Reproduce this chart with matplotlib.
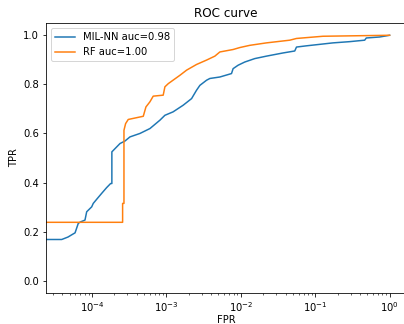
import matplotlib
matplotlib.use("Agg")
import matplotlib.pyplot as plt

# values
nn_fpr = [1e-5, 3.92e-5, 4.76e-5, 5.40e-5, 5.92e-5, 6.55e-5, 7.05e-5, 8.05e-5,
          8.49e-5, 9.91e-5, 1.04e-4, 1.18e-4, 1.35e-4, 1.57e-4, 1.78e-4,
          1.85e-4, 1.85e-4, 2.38e-4, 2.77e-4, 3.24e-4, 4.41e-4, 6.01e-4,
          8.18e-4, 9.55e-4, 1.23e-3, 1.68e-3, 2.18e-3, 2.54e-3, 2.82e-3,
          3.47e-3, 3.84e-3, 5.23e-3, 7.50e-3, 7.88e-3, 9.20e-3, 1.13e-2,
          1.54e-2, 2.21e-2, 3.70e-2, 5.31e-2, 5.60e-2, 7.62e-2, 0.115, 0.173,
          0.290, 0.462, 0.486, 0.734, 1.0]
nn_tpr = [0.168, 0.168, 0.178, 0.188, 0.195, 0.234, 0.240, 0.247,
          0.281, 0.301, 0.315, 0.335, 0.356, 0.379, 0.396,
          0.396, 0.525, 0.559, 0.569, 0.586, 0.600, 0.620,
          0.654, 0.674, 0.688, 0.715, 0.742, 0.776, 0.796,
          0.817, 0.824, 0.830, 0.844, 0.864, 0.878, 0.891,
          0.905, 0.915, 0.928, 0.936, 0.952, 0.957, 0.963, 0.969,
          0.974, 0.980, 0.989, 0.993, 1.0]

rf_fpr = [1e-5, 2.58e-4, 2.58e-4, 2.69e-4, 2.69e-4, 2.83e-4, 3.07e-4, 4.89e-4,
          5.31e-4, 6.01e-4, 6.65e-4, 9.06e-4, 9.55e-4, 1.06e-3, 1.52e-3,
          1.87e-3, 2.54e-3, 3.47e-3, 4.48e-3, 5.23e-3, 7.88e-3, 9.70e-3,
          1.32e-2, 2.21e-2, 4.55e-2, 5.60e-2, 0.127, 1.0]
rf_tpr = [0.238, 0.238, 0.315, 0.315, 0.613, 0.640, 0.657, 0.670,
          0.708, 0.729, 0.752, 0.756, 0.790, 0.803, 0.837,
          0.858, 0.881, 0.899, 0.915, 0.932, 0.942, 0.950,
          0.959, 0.969, 0.980, 0.987, 0.996, 1.0]

fig = plt.figure(figsize=(404 / 72, 324 / 72), dpi=72)
ax = fig.add_axes([46 / 404, 31 / 324, 360 / 404, 270 / 324])

ax.plot(nn_fpr, nn_tpr, label="MIL-NN auc=0.98")
ax.plot(rf_fpr, rf_tpr, label="RF auc=1.00")
ax.set_xscale("log")
ax.set_xlim(2.41e-5, 1.66)
ax.set_ylim(-0.05, 1.05)
ax.set_title("ROC curve")
ax.set_xlabel("FPR", labelpad=1)
ax.set_ylabel("TPR")
ax.legend(loc="upper left")

fig.savefig("out.png", dpi=72)
